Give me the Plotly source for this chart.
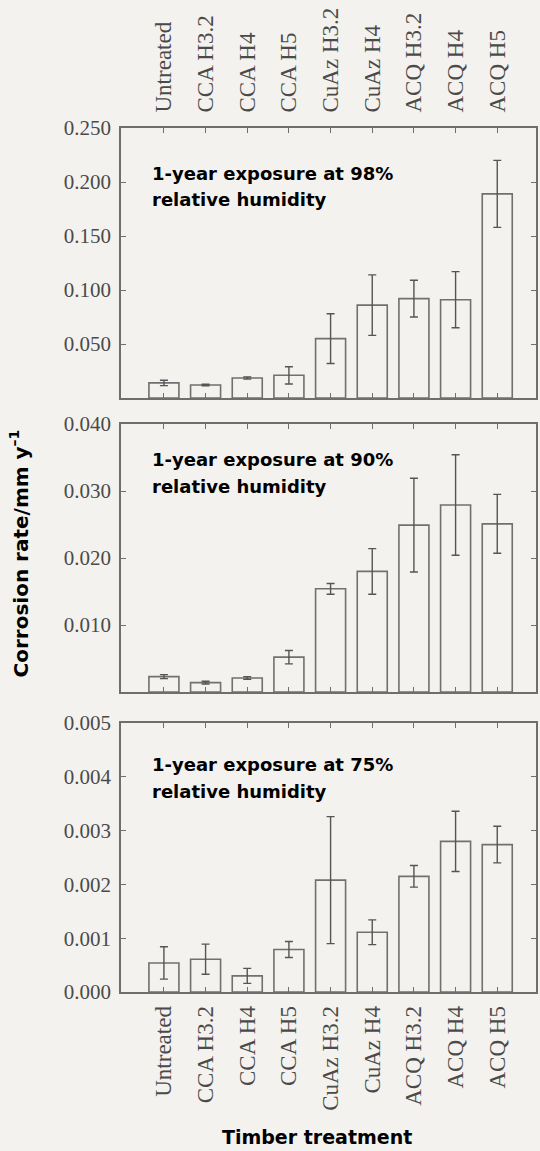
import plotly.graph_objects as go

categories = ["Untreated", "CCA H3.2", "CCA H4", "CCA H5", "CuAz H3.2",
              "CuAz H4", "ACQ H3.2", "ACQ H4", "ACQ H5"]

rate_98 = [0.014, 0.012, 0.0185, 0.021, 0.055, 0.086, 0.092, 0.091, 0.189]
err_98 = [0.0025, 0.0007, 0.001, 0.008, 0.023, 0.028, 0.017, 0.026, 0.031]

rate_90 = [0.0023, 0.0014, 0.0021, 0.0052, 0.0154, 0.0180, 0.0249, 0.0279, 0.0251]
err_90 = [0.0003, 0.0002, 0.0002, 0.0010, 0.0008, 0.0034, 0.0070, 0.0075, 0.0044]

rate_75 = [0.00054, 0.00061, 0.00030, 0.00079, 0.00208, 0.00111, 0.00215, 0.00280, 0.00274]
err_75 = [0.00030, 0.00028, 0.00014, 0.00015, 0.00118, 0.00023, 0.00020, 0.00056, 0.00034]

ticks_98 = [0.05, 0.10, 0.15, 0.20, 0.25]
ticks_90 = [0.01, 0.02, 0.03, 0.04]
ticks_75 = [0.000, 0.001, 0.002, 0.003, 0.004, 0.005]

panel_lines = [
    ["1-year exposure at 98%", "relative humidity"],
    ["1-year exposure at 90%", "relative humidity"],
    ["1-year exposure at 75%", "relative humidity"],
]
y_title = "Corrosion rate/mm y<sup>–1</sup>"
x_title = "Timber treatment"

BG = "#f4f2ee"
AXC = "#6e6e6e"
BARC = "#707070"
ERRC = "#555555"
TICKC = "#4a4a4a"
SERIF = "Liberation Serif"
SANS = "DejaVu Sans"

xpos = list(range(len(categories)))

fig = go.Figure()
series = [(rate_98, err_98), (rate_90, err_90), (rate_75, err_75)]
for i, (vals, errs) in enumerate(series):
    sfx = "" if i == 0 else str(i + 1)
    fig.add_trace(go.Bar(
        x=xpos, y=vals, width=0.72,
        marker=dict(color=BG, line=dict(color=BARC, width=1.6)),
        error_y=dict(type="data", array=errs, visible=True,
                     color=ERRC, thickness=1.4, width=4),
        xaxis="x" + sfx, yaxis="y" + sfx, showlegend=False,
    ))

W, H = 540, 1151
top, bottom = 128, 992
ml, mr = 121, 2
ph = bottom - top
pw = W - ml - mr


def dom(y0, y1):
    return [(bottom - y1) / ph, (bottom - y0) / ph]


def px_x(x):
    return (x - ml) / pw


def px_y(y):
    return (bottom - y) / ph


domains = [dom(128, 398), dom(424, 692), dom(723, 992)]
yranges = [[0, 0.25], [0, 0.04], [0, 0.005]]
yticks = [ticks_98, ticks_90, ticks_75]
xrange_ = [-1.03, 8.93]

layout = dict(
    width=W, height=H,
    margin=dict(l=ml, r=mr, t=top, b=H - bottom),
    paper_bgcolor=BG, plot_bgcolor=BG,
    bargap=0.28,
)

for i in range(3):
    sfx = "" if i == 0 else str(i + 1)
    xa = dict(
        domain=[0, 1], range=xrange_, anchor="y" + sfx,
        tickmode="array", tickvals=xpos, ticktext=categories,
        ticks="inside", ticklen=5, tickcolor=AXC, tickwidth=1.2,
        showline=True, linecolor=AXC, linewidth=1.8, mirror="ticks",
        showgrid=False, zeroline=False,
        tickangle=-90,
        tickfont=dict(family=SERIF, size=23, color=TICKC),
    )
    if i == 0:
        xa.update(side="top", showticklabels=True, ticklabelstandoff=9)
    elif i == 1:
        xa.update(showticklabels=False)
    else:
        xa.update(side="bottom", showticklabels=True, ticklabelstandoff=3)
    ya = dict(
        domain=domains[i], range=yranges[i], anchor="x" + sfx,
        tickmode="array", tickvals=yticks[i],
        ticktext=["%.3f" % v for v in yticks[i]],
        ticks="inside", ticklen=5, tickcolor=AXC, tickwidth=1.2,
        showline=True, linecolor=AXC, linewidth=1.8, mirror="ticks",
        showgrid=False, zeroline=False,
        tickfont=dict(family=SERIF, size=21, color=TICKC),
        ticklabelstandoff=4,
    )
    layout["xaxis" + sfx] = xa
    layout["yaxis" + sfx] = ya

fig.update_layout(**layout)

# panel annotations (two lines each)
line_pos = [(0.833, 0.735), (0.866, 0.767), (0.844, 0.745)]
x_text = px_x(150)
for i in range(3):
    sfx = "" if i == 0 else str(i + 1)
    for j, txt in enumerate(panel_lines[i]):
        fig.add_annotation(
            text="<b>%s</b>" % txt, x=x_text, y=line_pos[i][j],
            xref="x%s domain" % sfx, yref="y%s domain" % sfx,
            xanchor="left", yanchor="middle", showarrow=False,
            font=dict(family=SANS, size=18, color="#000000"),
        )

fig.add_annotation(
    text="<b>%s</b>" % y_title, textangle=-90,
    x=px_x(19), y=px_y(553), xref="paper", yref="paper",
    xanchor="center", yanchor="middle", showarrow=False,
    font=dict(family=SANS, size=20, color="#000000"),
)
fig.add_annotation(
    text="<b>%s</b>" % x_title,
    x=px_x(318), y=px_y(1137),
    xref="paper", yref="paper",
    xanchor="center", yanchor="middle", showarrow=False,
    font=dict(family=SANS, size=19, color="#000000"),
)

fig.write_html(
    "out.html",
    config={"displayModeBar": False},
    post_script="document.body.style.margin='0';"
                "document.body.style.background='%s';" % BG,
)
